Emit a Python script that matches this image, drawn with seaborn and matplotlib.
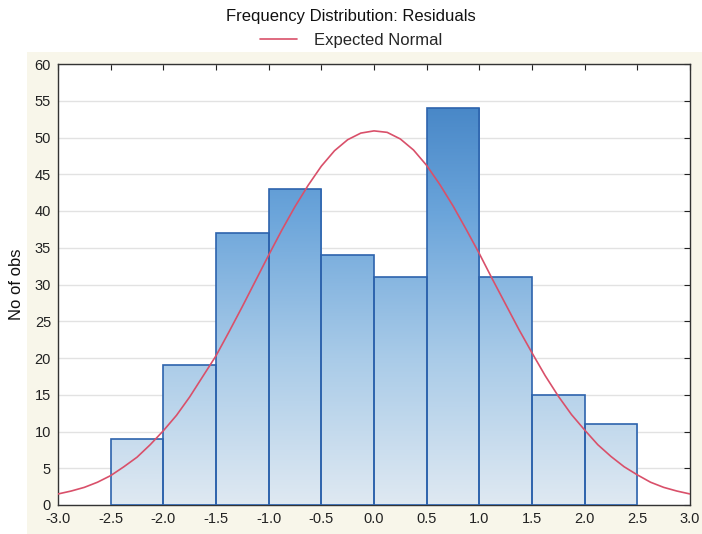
import numpy as np
import pandas as pd
import matplotlib
matplotlib.use("Agg")
import matplotlib.pyplot as plt
import seaborn as sns
from matplotlib.colors import LinearSegmentedColormap
from matplotlib.patches import Rectangle

# ---- data ----
bin_edges = [-2.5, -2.0, -1.5, -1.0, -0.5, 0.0, 0.5, 1.0, 1.5, 2.0, 2.5]
bin_centers = [-2.25, -1.75, -1.25, -0.75, -0.25, 0.25, 0.75, 1.25, 1.75, 2.25]
counts = [9, 19, 37, 43, 34, 31, 54, 31, 15, 11]

curve_x = [-3.0, -2.875, -2.75, -2.625, -2.5, -2.375, -2.25, -2.125, -2.0, -1.875,
           -1.75, -1.625, -1.5, -1.375, -1.25, -1.125, -1.0, -0.875, -0.75, -0.625,
           -0.5, -0.375, -0.25, -0.125, 0.0, 0.125, 0.25, 0.375, 0.5, 0.625,
           0.75, 0.875, 1.0, 1.125, 1.25, 1.375, 1.5, 1.625, 1.75, 1.875,
           2.0, 2.125, 2.25, 2.375, 2.5, 2.625, 2.75, 2.875, 3.0]
curve_y = [1.5, 1.9, 2.4, 3.1, 4.0, 5.2, 6.5, 8.2, 10.1, 12.2,
           14.7, 17.5, 20.3, 23.6, 27.0, 30.5, 34.0, 37.4, 40.6, 43.5,
           46.1, 48.2, 49.7, 50.6, 50.9, 50.7, 49.8, 48.3, 46.2, 43.6,
           40.7, 37.5, 34.2, 30.7, 27.3, 23.9, 20.7, 17.6, 14.8, 12.3,
           10.2, 8.2, 6.6, 5.2, 4.1, 3.1, 2.4, 1.9, 1.5]

x_ticks = [-3.0, -2.5, -2.0, -1.5, -1.0, -0.5, 0.0, 0.5, 1.0, 1.5, 2.0, 2.5, 3.0]
y_ticks = [0, 5, 10, 15, 20, 25, 30, 35, 40, 45, 50, 55, 60]

title = "Frequency Distribution: Residuals"
legend_label = "Expected Normal"
y_label = "No of obs"

sns.set_style("white")
plt.rcParams["font.family"] = ["Liberation Sans", "DejaVu Sans"]

fig = plt.figure(figsize=(7.02, 5.34), dpi=100)
fig.patch.set_facecolor("white")
# beige panel behind the plot area
bg = Rectangle((27 / 702, 0), 1 - 27 / 702, 1 - 52 / 534,
               transform=fig.transFigure, facecolor="#f8f6ea",
               edgecolor="none", zorder=-5)
fig.patches.append(bg)

ax = fig.add_axes([58 / 702, 29 / 534, (690 - 58) / 702, (505 - 64) / 534])
ax.set_zorder(2)
ax.set_facecolor("white")

df = pd.DataFrame({"x": bin_centers, "n": counts})
sns.histplot(data=df, x="x", weights="n", bins=bin_edges, ax=ax,
             edgecolor="#2d63ad", linewidth=1.2, facecolor="none", fill=True, zorder=3)

ax.set_xlim(-3.0, 3.0)
ax.set_ylim(0, 60)

# vertical gradient inside each bar
cmap = LinearSegmentedColormap.from_list("bluegrad", ["#dfe9f2", "#a9cbe8", "#6aa4da", "#3b7cc0"])
grad = np.linspace(0, 1, 256).reshape(-1, 1)
for p in list(ax.patches):
    im = ax.imshow(grad, cmap=cmap, origin="lower", aspect="auto",
                   extent=[-3.0, 3.0, 0, 60], zorder=2, interpolation="bicubic")
    im.set_clip_path(p)
ax.set_xlim(-3.0, 3.0)
ax.set_ylim(0, 60)

curve_df = pd.DataFrame({"x": curve_x, "y": curve_y})
sns.lineplot(data=curve_df, x="x", y="y", ax=ax, color="#d9506a", linewidth=1.2,
             zorder=5, sort=False, label=legend_label)

ax.set_xticks(x_ticks)
ax.set_xticklabels([f"{v:.1f}" for v in x_ticks])
ax.set_yticks(y_ticks)
ax.set_yticklabels([str(v) for v in y_ticks])
ax.tick_params(axis="both", labelsize=10.5, colors="#222222", direction="in",
               length=4, top=True, right=True, bottom=False, left=False,
               labeltop=False, labelright=False, pad=5)
ax.grid(axis="y", color="#e2e2e2", linewidth=1.0, zorder=0)
ax.set_axisbelow(True)
for s in ax.spines.values():
    s.set_color("#333333")
    s.set_linewidth(1.0)
ax.set_xlabel("")
ax.set_ylabel(y_label, fontsize=12, color="#111111", labelpad=8)

fig.text(351 / 702, 1 - 17 / 534, title, ha="center", va="center", fontsize=12, color="#111111")
leg = ax.legend(loc="center", bbox_to_anchor=(0.5, 1 - 40 / 534), bbox_transform=fig.transFigure,
                frameon=False, fontsize=12, handlelength=2.2, handletextpad=1.0)

fig.savefig("out.png", dpi=100, facecolor=fig.get_facecolor())
